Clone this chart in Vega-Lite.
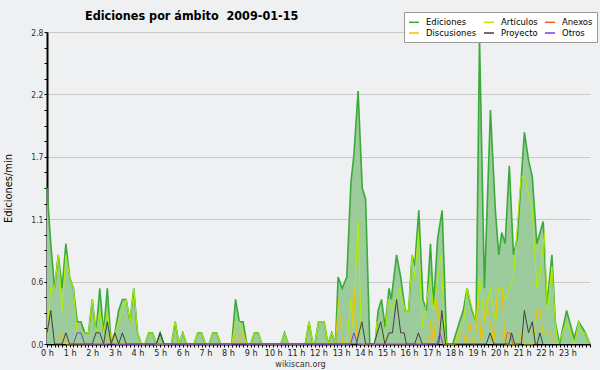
{
  "$schema": "https://vega.github.io/schema/vega-lite/v6.json",
  "width": 543,
  "height": 312,
  "autosize": {"type": "none"},
  "padding": {"left": 47, "top": 32, "right": 10, "bottom": 26},
  "background": "#eff0f1",
  "config": {
    "view": {"stroke": null},
    "font": "DejaVu Sans Condensed, Liberation Sans Narrow, DejaVu Sans"
  },
  "title": {
    "text": "Ediciones por ámbito\u00a0 2009-01-15",
    "anchor": "start",
    "frame": "group",
    "dx": 38,
    "offset": -11,
    "fontSize": 12.5,
    "fontWeight": "bold",
    "color": "#000000"
  },
  "data": {
    "values": [
      {"s": "Ediciones", "t": 0, "v": 1.4}, {"s": "Ediciones", "t": 10, "v": 0.9}, {"s": "Ediciones", "t": 20, "v": 0.5}, {"s": "Ediciones", "t": 30, "v": 0.8}, {"s": "Ediciones", "t": 40, "v": 0.5}, {"s": "Ediciones", "t": 50, "v": 0.9}, {"s": "Ediciones", "t": 60, "v": 0.6}, {"s": "Ediciones", "t": 70, "v": 0.5}, {"s": "Ediciones", "t": 80, "v": 0.2}, {"s": "Ediciones", "t": 90, "v": 0.2}, {"s": "Ediciones", "t": 100, "v": 0.1}, {"s": "Ediciones", "t": 110, "v": 0.1}, {"s": "Ediciones", "t": 120, "v": 0.4}, {"s": "Ediciones", "t": 130, "v": 0.1}, {"s": "Ediciones", "t": 140, "v": 0.5}, {"s": "Ediciones", "t": 150, "v": 0.1}, {"s": "Ediciones", "t": 160, "v": 0.5}, {"s": "Ediciones", "t": 170, "v": 0}, {"s": "Ediciones", "t": 180, "v": 0.1}, {"s": "Ediciones", "t": 190, "v": 0.3}, {"s": "Ediciones", "t": 200, "v": 0.4}, {"s": "Ediciones", "t": 210, "v": 0.4}, {"s": "Ediciones", "t": 220, "v": 0.2}, {"s": "Ediciones", "t": 230, "v": 0.5}, {"s": "Ediciones", "t": 240, "v": 0.1}, {"s": "Ediciones", "t": 250, "v": 0}, {"s": "Ediciones", "t": 260, "v": 0}, {"s": "Ediciones", "t": 270, "v": 0.1}, {"s": "Ediciones", "t": 280, "v": 0.1}, {"s": "Ediciones", "t": 290, "v": 0}, {"s": "Ediciones", "t": 300, "v": 0.1}, {"s": "Ediciones", "t": 310, "v": 0}, {"s": "Ediciones", "t": 330, "v": 0}, {"s": "Ediciones", "t": 340, "v": 0.2}, {"s": "Ediciones", "t": 350, "v": 0}, {"s": "Ediciones", "t": 360, "v": 0.1}, {"s": "Ediciones", "t": 370, "v": 0}, {"s": "Ediciones", "t": 390, "v": 0}, {"s": "Ediciones", "t": 400, "v": 0.1}, {"s": "Ediciones", "t": 410, "v": 0.1}, {"s": "Ediciones", "t": 420, "v": 0}, {"s": "Ediciones", "t": 430, "v": 0}, {"s": "Ediciones", "t": 440, "v": 0.1}, {"s": "Ediciones", "t": 450, "v": 0.1}, {"s": "Ediciones", "t": 460, "v": 0}, {"s": "Ediciones", "t": 490, "v": 0}, {"s": "Ediciones", "t": 500, "v": 0.4}, {"s": "Ediciones", "t": 510, "v": 0.2}, {"s": "Ediciones", "t": 520, "v": 0.2}, {"s": "Ediciones", "t": 530, "v": 0}, {"s": "Ediciones", "t": 540, "v": 0}, {"s": "Ediciones", "t": 550, "v": 0.1}, {"s": "Ediciones", "t": 560, "v": 0.1}, {"s": "Ediciones", "t": 570, "v": 0}, {"s": "Ediciones", "t": 620, "v": 0}, {"s": "Ediciones", "t": 630, "v": 0.1}, {"s": "Ediciones", "t": 640, "v": 0}, {"s": "Ediciones", "t": 685, "v": 0}, {"s": "Ediciones", "t": 695, "v": 0.2}, {"s": "Ediciones", "t": 705, "v": 0}, {"s": "Ediciones", "t": 710, "v": 0}, {"s": "Ediciones", "t": 720, "v": 0.2}, {"s": "Ediciones", "t": 735, "v": 0.2}, {"s": "Ediciones", "t": 745, "v": 0}, {"s": "Ediciones", "t": 755, "v": 0.1}, {"s": "Ediciones", "t": 765, "v": 0}, {"s": "Ediciones", "t": 772, "v": 0.6}, {"s": "Ediciones", "t": 783, "v": 0.5}, {"s": "Ediciones", "t": 795, "v": 0.6}, {"s": "Ediciones", "t": 806, "v": 1.45}, {"s": "Ediciones", "t": 814, "v": 1.7}, {"s": "Ediciones", "t": 825, "v": 2.27}, {"s": "Ediciones", "t": 836, "v": 1.4}, {"s": "Ediciones", "t": 845, "v": 1.3}, {"s": "Ediciones", "t": 856, "v": 0}, {"s": "Ediciones", "t": 870, "v": 0}, {"s": "Ediciones", "t": 878, "v": 0.3}, {"s": "Ediciones", "t": 887, "v": 0.4}, {"s": "Ediciones", "t": 897, "v": 0.15}, {"s": "Ediciones", "t": 907, "v": 0.5}, {"s": "Ediciones", "t": 913, "v": 0.4}, {"s": "Ediciones", "t": 927, "v": 0.8}, {"s": "Ediciones", "t": 938, "v": 0.6}, {"s": "Ediciones", "t": 950, "v": 0.3}, {"s": "Ediciones", "t": 959, "v": 0.3}, {"s": "Ediciones", "t": 968, "v": 0.8}, {"s": "Ediciones", "t": 975, "v": 0.7}, {"s": "Ediciones", "t": 986, "v": 1.2}, {"s": "Ediciones", "t": 997, "v": 0.4}, {"s": "Ediciones", "t": 1006, "v": 0.3}, {"s": "Ediciones", "t": 1017, "v": 0.9}, {"s": "Ediciones", "t": 1025, "v": 0.35}, {"s": "Ediciones", "t": 1036, "v": 0.95}, {"s": "Ediciones", "t": 1048, "v": 1.2}, {"s": "Ediciones", "t": 1060, "v": 0}, {"s": "Ediciones", "t": 1076, "v": 0}, {"s": "Ediciones", "t": 1094, "v": 0.2}, {"s": "Ediciones", "t": 1104, "v": 0.3}, {"s": "Ediciones", "t": 1114, "v": 0.5}, {"s": "Ediciones", "t": 1127, "v": 0.3}, {"s": "Ediciones", "t": 1138, "v": 0.2}, {"s": "Ediciones", "t": 1147, "v": 2.75}, {"s": "Ediciones", "t": 1160, "v": 0.5}, {"s": "Ediciones", "t": 1176, "v": 2.1}, {"s": "Ediciones", "t": 1189, "v": 1.2}, {"s": "Ediciones", "t": 1198, "v": 0.8}, {"s": "Ediciones", "t": 1206, "v": 1.0}, {"s": "Ediciones", "t": 1215, "v": 0.9}, {"s": "Ediciones", "t": 1226, "v": 1.6}, {"s": "Ediciones", "t": 1237, "v": 0.8}, {"s": "Ediciones", "t": 1247, "v": 0.95}, {"s": "Ediciones", "t": 1266, "v": 1.9}, {"s": "Ediciones", "t": 1277, "v": 1.65}, {"s": "Ediciones", "t": 1287, "v": 1.5}, {"s": "Ediciones", "t": 1299, "v": 0.9}, {"s": "Ediciones", "t": 1316, "v": 1.1}, {"s": "Ediciones", "t": 1326, "v": 0.35}, {"s": "Ediciones", "t": 1339, "v": 0.8}, {"s": "Ediciones", "t": 1348, "v": 0.2}, {"s": "Ediciones", "t": 1359, "v": 0}, {"s": "Ediciones", "t": 1378, "v": 0.3}, {"s": "Ediciones", "t": 1398, "v": 0.05}, {"s": "Ediciones", "t": 1410, "v": 0.2}, {"s": "Ediciones", "t": 1428, "v": 0.1}, {"s": "Ediciones", "t": 1440, "v": 0},

      {"s": "Artículos", "t": 0, "v": 0.1}, {"s": "Artículos", "t": 10, "v": 0.5}, {"s": "Artículos", "t": 20, "v": 0.5}, {"s": "Artículos", "t": 30, "v": 0.8}, {"s": "Artículos", "t": 40, "v": 0.3}, {"s": "Artículos", "t": 50, "v": 0.8}, {"s": "Artículos", "t": 60, "v": 0.6}, {"s": "Artículos", "t": 70, "v": 0.5}, {"s": "Artículos", "t": 80, "v": 0.1}, {"s": "Artículos", "t": 90, "v": 0.1}, {"s": "Artículos", "t": 100, "v": 0.1}, {"s": "Artículos", "t": 110, "v": 0.1}, {"s": "Artículos", "t": 120, "v": 0.4}, {"s": "Artículos", "t": 130, "v": 0.1}, {"s": "Artículos", "t": 140, "v": 0.3}, {"s": "Artículos", "t": 150, "v": 0.1}, {"s": "Artículos", "t": 160, "v": 0.3}, {"s": "Artículos", "t": 170, "v": 0}, {"s": "Artículos", "t": 180, "v": 0.1}, {"s": "Artículos", "t": 190, "v": 0.2}, {"s": "Artículos", "t": 200, "v": 0.3}, {"s": "Artículos", "t": 210, "v": 0.4}, {"s": "Artículos", "t": 220, "v": 0.2}, {"s": "Artículos", "t": 230, "v": 0.5}, {"s": "Artículos", "t": 240, "v": 0.1}, {"s": "Artículos", "t": 250, "v": 0}, {"s": "Artículos", "t": 260, "v": 0}, {"s": "Artículos", "t": 270, "v": 0.1}, {"s": "Artículos", "t": 280, "v": 0.1}, {"s": "Artículos", "t": 290, "v": 0}, {"s": "Artículos", "t": 330, "v": 0}, {"s": "Artículos", "t": 340, "v": 0.2}, {"s": "Artículos", "t": 350, "v": 0}, {"s": "Artículos", "t": 360, "v": 0.1}, {"s": "Artículos", "t": 370, "v": 0}, {"s": "Artículos", "t": 390, "v": 0}, {"s": "Artículos", "t": 400, "v": 0.1}, {"s": "Artículos", "t": 410, "v": 0.1}, {"s": "Artículos", "t": 420, "v": 0}, {"s": "Artículos", "t": 430, "v": 0}, {"s": "Artículos", "t": 440, "v": 0.1}, {"s": "Artículos", "t": 450, "v": 0.1}, {"s": "Artículos", "t": 460, "v": 0}, {"s": "Artículos", "t": 490, "v": 0}, {"s": "Artículos", "t": 500, "v": 0.2}, {"s": "Artículos", "t": 510, "v": 0.2}, {"s": "Artículos", "t": 520, "v": 0.1}, {"s": "Artículos", "t": 530, "v": 0}, {"s": "Artículos", "t": 540, "v": 0}, {"s": "Artículos", "t": 550, "v": 0.1}, {"s": "Artículos", "t": 560, "v": 0.1}, {"s": "Artículos", "t": 570, "v": 0}, {"s": "Artículos", "t": 620, "v": 0}, {"s": "Artículos", "t": 630, "v": 0.1}, {"s": "Artículos", "t": 640, "v": 0}, {"s": "Artículos", "t": 685, "v": 0}, {"s": "Artículos", "t": 695, "v": 0.2}, {"s": "Artículos", "t": 705, "v": 0}, {"s": "Artículos", "t": 710, "v": 0}, {"s": "Artículos", "t": 720, "v": 0.2}, {"s": "Artículos", "t": 735, "v": 0.2}, {"s": "Artículos", "t": 745, "v": 0}, {"s": "Artículos", "t": 755, "v": 0.1}, {"s": "Artículos", "t": 765, "v": 0}, {"s": "Artículos", "t": 795, "v": 0}, {"s": "Artículos", "t": 806, "v": 0.4}, {"s": "Artículos", "t": 812, "v": 0.15}, {"s": "Artículos", "t": 825, "v": 1.1}, {"s": "Artículos", "t": 834, "v": 0}, {"s": "Artículos", "t": 870, "v": 0}, {"s": "Artículos", "t": 875, "v": 0.2}, {"s": "Artículos", "t": 885, "v": 0.2}, {"s": "Artículos", "t": 895, "v": 0}, {"s": "Artículos", "t": 905, "v": 0.4}, {"s": "Artículos", "t": 915, "v": 0.3}, {"s": "Artículos", "t": 935, "v": 0.5}, {"s": "Artículos", "t": 950, "v": 0.3}, {"s": "Artículos", "t": 959, "v": 0.3}, {"s": "Artículos", "t": 968, "v": 0.8}, {"s": "Artículos", "t": 975, "v": 0.6}, {"s": "Artículos", "t": 985, "v": 1.0}, {"s": "Artículos", "t": 995, "v": 0.15}, {"s": "Artículos", "t": 1017, "v": 0.6}, {"s": "Artículos", "t": 1025, "v": 0.3}, {"s": "Artículos", "t": 1045, "v": 0.8}, {"s": "Artículos", "t": 1055, "v": 0.1}, {"s": "Artículos", "t": 1060, "v": 0}, {"s": "Artículos", "t": 1080, "v": 0}, {"s": "Artículos", "t": 1095, "v": 0.15}, {"s": "Artículos", "t": 1105, "v": 0.2}, {"s": "Artículos", "t": 1114, "v": 0.5}, {"s": "Artículos", "t": 1125, "v": 0.35}, {"s": "Artículos", "t": 1138, "v": 0.2}, {"s": "Artículos", "t": 1147, "v": 0.6}, {"s": "Artículos", "t": 1160, "v": 0.2}, {"s": "Artículos", "t": 1175, "v": 0.5}, {"s": "Artículos", "t": 1190, "v": 0.2}, {"s": "Artículos", "t": 1197, "v": 0.5}, {"s": "Artículos", "t": 1206, "v": 0.5}, {"s": "Artículos", "t": 1215, "v": 0.4}, {"s": "Artículos", "t": 1237, "v": 0.6}, {"s": "Artículos", "t": 1257, "v": 1.5}, {"s": "Artículos", "t": 1266, "v": 1.5}, {"s": "Artículos", "t": 1277, "v": 1.35}, {"s": "Artículos", "t": 1287, "v": 1.2}, {"s": "Artículos", "t": 1299, "v": 0.5}, {"s": "Artículos", "t": 1307, "v": 0.6}, {"s": "Artículos", "t": 1319, "v": 1.0}, {"s": "Artículos", "t": 1327, "v": 0.3}, {"s": "Artículos", "t": 1339, "v": 0.7}, {"s": "Artículos", "t": 1348, "v": 0.2}, {"s": "Artículos", "t": 1355, "v": 0}, {"s": "Artículos", "t": 1378, "v": 0.2}, {"s": "Artículos", "t": 1399, "v": 0}, {"s": "Artículos", "t": 1410, "v": 0.2}, {"s": "Artículos", "t": 1418, "v": 0.1}, {"s": "Artículos", "t": 1429, "v": 0.1}, {"s": "Artículos", "t": 1440, "v": 0},

      {"s": "Discusiones", "t": 30, "v": 0}, {"s": "Discusiones", "t": 40, "v": 0.1}, {"s": "Discusiones", "t": 50, "v": 0}, {"s": "Discusiones", "t": 160, "v": 0}, {"s": "Discusiones", "t": 170, "v": 0.1}, {"s": "Discusiones", "t": 180, "v": 0}, {"s": "Discusiones", "t": 490, "v": 0}, {"s": "Discusiones", "t": 500, "v": 0.1}, {"s": "Discusiones", "t": 510, "v": 0}, {"s": "Discusiones", "t": 520, "v": 0.1}, {"s": "Discusiones", "t": 530, "v": 0}, {"s": "Discusiones", "t": 765, "v": 0}, {"s": "Discusiones", "t": 773, "v": 0.4}, {"s": "Discusiones", "t": 784, "v": 0}, {"s": "Discusiones", "t": 805, "v": 0}, {"s": "Discusiones", "t": 814, "v": 0.5}, {"s": "Discusiones", "t": 823, "v": 0}, {"s": "Discusiones", "t": 1010, "v": 0}, {"s": "Discusiones", "t": 1018, "v": 0.2}, {"s": "Discusiones", "t": 1025, "v": 0}, {"s": "Discusiones", "t": 1034, "v": 0.4}, {"s": "Discusiones", "t": 1043, "v": 0.1}, {"s": "Discusiones", "t": 1050, "v": 0}, {"s": "Discusiones", "t": 1085, "v": 0}, {"s": "Discusiones", "t": 1094, "v": 0.1}, {"s": "Discusiones", "t": 1104, "v": 0.1}, {"s": "Discusiones", "t": 1110, "v": 0}, {"s": "Discusiones", "t": 1120, "v": 0.2}, {"s": "Discusiones", "t": 1130, "v": 0}, {"s": "Discusiones", "t": 1135, "v": 0}, {"s": "Discusiones", "t": 1144, "v": 0.4}, {"s": "Discusiones", "t": 1152, "v": 0}, {"s": "Discusiones", "t": 1165, "v": 0.4}, {"s": "Discusiones", "t": 1175, "v": 0.2}, {"s": "Discusiones", "t": 1185, "v": 0}, {"s": "Discusiones", "t": 1195, "v": 0.5}, {"s": "Discusiones", "t": 1206, "v": 0.5}, {"s": "Discusiones", "t": 1215, "v": 0}, {"s": "Discusiones", "t": 1250, "v": 0}, {"s": "Discusiones", "t": 1257, "v": 0.1}, {"s": "Discusiones", "t": 1265, "v": 0}, {"s": "Discusiones", "t": 1290, "v": 0}, {"s": "Discusiones", "t": 1299, "v": 0.3}, {"s": "Discusiones", "t": 1308, "v": 0.3}, {"s": "Discusiones", "t": 1315, "v": 0.1}, {"s": "Discusiones", "t": 1335, "v": 0.1}, {"s": "Discusiones", "t": 1345, "v": 0},

      {"s": "Anexos", "t": 1215, "v": 0}, {"s": "Anexos", "t": 1220, "v": 0.1}, {"s": "Anexos", "t": 1228, "v": 0.1}, {"s": "Anexos", "t": 1235, "v": 0},

      {"s": "Proyecto", "t": 0, "v": 0.1}, {"s": "Proyecto", "t": 10, "v": 0.3}, {"s": "Proyecto", "t": 20, "v": 0}, {"s": "Proyecto", "t": 40, "v": 0}, {"s": "Proyecto", "t": 50, "v": 0.1}, {"s": "Proyecto", "t": 60, "v": 0}, {"s": "Proyecto", "t": 120, "v": 0}, {"s": "Proyecto", "t": 130, "v": 0.1}, {"s": "Proyecto", "t": 140, "v": 0.1}, {"s": "Proyecto", "t": 150, "v": 0}, {"s": "Proyecto", "t": 160, "v": 0.2}, {"s": "Proyecto", "t": 170, "v": 0}, {"s": "Proyecto", "t": 180, "v": 0.1}, {"s": "Proyecto", "t": 190, "v": 0}, {"s": "Proyecto", "t": 200, "v": 0.1}, {"s": "Proyecto", "t": 210, "v": 0}, {"s": "Proyecto", "t": 290, "v": 0}, {"s": "Proyecto", "t": 300, "v": 0.1}, {"s": "Proyecto", "t": 310, "v": 0}, {"s": "Proyecto", "t": 820, "v": 0}, {"s": "Proyecto", "t": 835, "v": 0.2}, {"s": "Proyecto", "t": 845, "v": 0}, {"s": "Proyecto", "t": 867, "v": 0}, {"s": "Proyecto", "t": 885, "v": 0.2}, {"s": "Proyecto", "t": 896, "v": 0}, {"s": "Proyecto", "t": 907, "v": 0.1}, {"s": "Proyecto", "t": 916, "v": 0.1}, {"s": "Proyecto", "t": 927, "v": 0.4}, {"s": "Proyecto", "t": 938, "v": 0.1}, {"s": "Proyecto", "t": 947, "v": 0.1}, {"s": "Proyecto", "t": 953, "v": 0}, {"s": "Proyecto", "t": 975, "v": 0}, {"s": "Proyecto", "t": 985, "v": 0.1}, {"s": "Proyecto", "t": 995, "v": 0}, {"s": "Proyecto", "t": 1039, "v": 0}, {"s": "Proyecto", "t": 1047, "v": 0.3}, {"s": "Proyecto", "t": 1057, "v": 0}, {"s": "Proyecto", "t": 1165, "v": 0}, {"s": "Proyecto", "t": 1175, "v": 0.1}, {"s": "Proyecto", "t": 1185, "v": 0}, {"s": "Proyecto", "t": 1225, "v": 0}, {"s": "Proyecto", "t": 1232, "v": 0.1}, {"s": "Proyecto", "t": 1240, "v": 0}, {"s": "Proyecto", "t": 1258, "v": 0}, {"s": "Proyecto", "t": 1266, "v": 0.3}, {"s": "Proyecto", "t": 1277, "v": 0.1}, {"s": "Proyecto", "t": 1287, "v": 0.2}, {"s": "Proyecto", "t": 1295, "v": 0}, {"s": "Proyecto", "t": 1300, "v": 0}, {"s": "Proyecto", "t": 1307, "v": 0.1}, {"s": "Proyecto", "t": 1315, "v": 0},

      {"s": "Otros", "t": 70, "v": 0}, {"s": "Otros", "t": 80, "v": 0.1}, {"s": "Otros", "t": 90, "v": 0.1}, {"s": "Otros", "t": 100, "v": 0}, {"s": "Otros", "t": 805, "v": 0}, {"s": "Otros", "t": 814, "v": 0.1}, {"s": "Otros", "t": 823, "v": 0}, {"s": "Otros", "t": 1034, "v": 0}, {"s": "Otros", "t": 1042, "v": 0.1}, {"s": "Otros", "t": 1050, "v": 0}
    ]
  },
  "encoding": {
    "x": {
      "field": "t",
      "type": "quantitative",
      "scale": {"domain": [0, 1440], "nice": false, "zero": false},
      "axis": {
        "values": [0,10,20,30,40,50,60,70,80,90,100,110,120,130,140,150,160,170,180,190,200,210,220,230,240,250,260,270,280,290,300,310,320,330,340,350,360,370,380,390,400,410,420,430,440,450,460,470,480,490,500,510,520,530,540,550,560,570,580,590,600,610,620,630,640,650,660,670,680,690,700,710,720,730,740,750,760,770,780,790,800,810,820,830,840,850,860,870,880,890,900,910,920,930,940,950,960,970,980,990,1000,1010,1020,1030,1040,1050,1060,1070,1080,1090,1100,1110,1120,1130,1140,1150,1160,1170,1180,1190,1200,1210,1220,1230,1240,1250,1260,1270,1280,1290,1300,1310,1320,1330,1340,1350,1360,1370,1380,1390,1400,1410,1420,1430,1440],
        "labelExpr": "datum.value % 60 == 0 && datum.value < 1440 ? (datum.value / 60) + ' h' : ''",
        "labelOverlap": false,
        "labelFlush": false,
        "labelFontSize": 9,
        "labelColor": "#222222",
        "labelPadding": 1,
        "tickSize": 3,
        "tickColor": "#000000",
        "tickWidth": 1,
        "domainColor": "#000000",
        "domainWidth": 2,
        "grid": false,
        "title": "wikiscan.org",
        "titleFontSize": 9,
        "titleFontWeight": "normal",
        "titleColor": "#333333",
        "titleX": 253,
        "titleAlign": "center",
        "titlePadding": 2
      }
    },
    "y": {
      "field": "v",
      "type": "quantitative",
      "scale": {"domain": [0, 2.8], "nice": false, "zero": true},
      "axis": {
        "values": [0, 0.14, 0.28, 0.42, 0.56, 0.7, 0.84, 0.98, 1.12, 1.26, 1.4, 1.54, 1.68, 1.82, 1.96, 2.1, 2.24, 2.38, 2.52, 2.66, 2.8],
        "labelExpr": "abs(datum.value / 0.56 - round(datum.value / 0.56)) < 0.001 ? format(datum.value, '.1f') : ''",
        "labelFontSize": 8.5,
        "labelColor": "#333333",
        "labelPadding": 1,
        "labelOverlap": false,
        "labelFlush": false,
        "tickSize": 3,
        "tickColor": "#000000",
        "domainColor": "#000000",
        "domainWidth": 2,
        "grid": true,
        "gridColor": "#c8c8c8",
        "gridOpacity": {"condition": {"test": "abs(datum.value / 0.56 - round(datum.value / 0.56)) < 0.001 && datum.value > 0", "value": 1}, "value": 0},
        "title": "Ediciones/min",
        "titleFontSize": 11,
        "titleFontWeight": "normal",
        "titleColor": "#000000",
        "titleX": -39,
        "titleY": 156,
        "titleAngle": -90,
        "titleAlign": "center",
        "titleBaseline": "middle"
      }
    }
  },
  "layer": [
    {
      "transform": [{"filter": "datum.s == 'Ediciones'"}],
      "mark": {"type": "area", "color": "#9ccb9c", "opacity": 1}
    },
    {
      "mark": {"type": "line", "interpolate": "linear"},
      "encoding": {
        "color": {
          "field": "s",
          "type": "nominal",
          "scale": {
            "domain": ["Ediciones", "Artículos", "Anexos", "Discusiones", "Proyecto", "Otros"],
            "range": ["#3aaa3a", "#b0f000", "#f06020", "#f2c200", "#404040", "#8038ee"]
          },
          "legend": {
            "title": null,
            "orient": "none",
            "legendX": 357,
            "legendY": -20,
            "columns": 3,
            "direction": "horizontal",
            "fillColor": "#ffffff",
            "strokeColor": "#9a9a9a",
            "padding": 4,
            "symbolType": "stroke",
            "symbolSize": 100,
            "symbolStrokeWidth": 1.5,
            "labelFontSize": 9.4,
            "labelColor": "#000000",
            "labelOffset": 6,
            "columnPadding": 4,
            "rowPadding": 0
          }
        },
        "strokeWidth": {"condition": {"test": "datum.s == 'Ediciones'", "value": 1.6}, "value": 1}
      }
    },
    {
      "data": {"values": [{}]},
      "mark": {"type": "text", "text": "CC BY-SA 3.0", "align": "right", "baseline": "middle", "fontSize": 6.8, "color": "#444444"},
      "encoding": {
        "x": {"datum": 1440},
        "y": {"datum": -0.165}
      }
    }
  ]
}
